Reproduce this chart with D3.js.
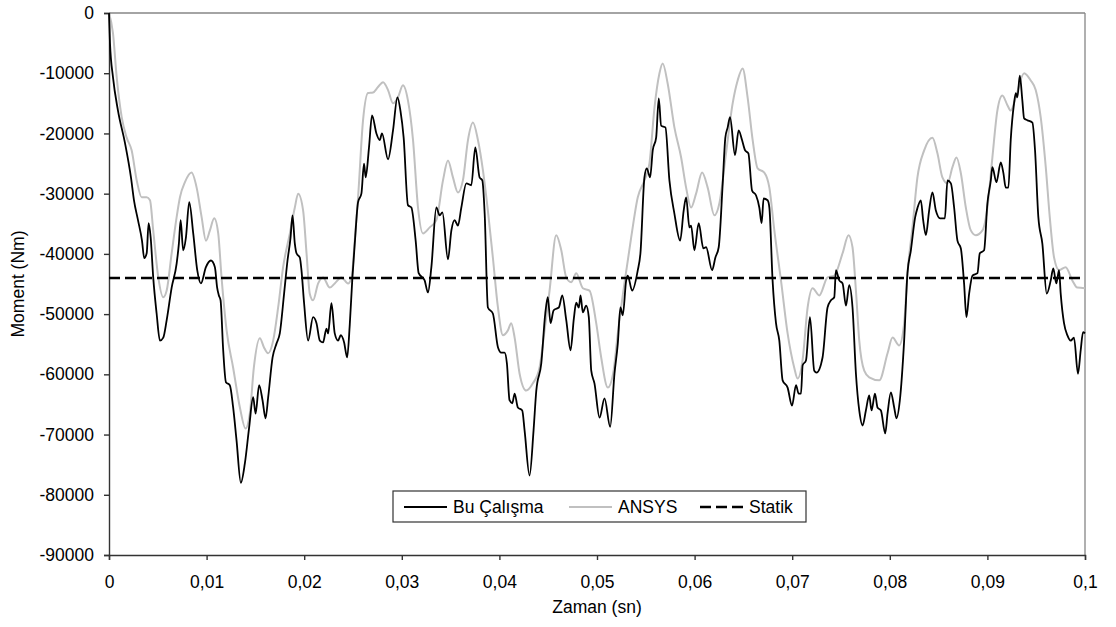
<!DOCTYPE html>
<html>
<head>
<meta charset="utf-8">
<script src="https://cdn.jsdelivr.net/npm/d3@7/dist/d3.min.js"></script>
<style>
  body { margin: 0; background: #fff; }
  svg { font-family: "Liberation Sans", Arial, sans-serif; }
</style>
</head>
<body>
<div id="chart"></div>
<script>
// time in ms, moment in Nm
const buCalisma = [
  [0,0],[0.10,-5000],[0.41,-10700],[0.92,-16200],[1.64,-21600],[2.25,-27300],[2.56,-31100],[2.97,-34400],[3.38,-37800],[3.61,-40700],
  [3.86,-39900],[4.06,-34900],[4.27,-37300],[4.53,-43900],[4.88,-49900],[5.22,-54400],[5.56,-53900],[5.91,-51000],[6.42,-45600],[6.93,-41600],
  [7.16,-38300],[7.34,-34400],[7.60,-39400],[7.88,-37300],[8.22,-31400],[8.63,-36600],[9.04,-42700],[9.42,-44900],[9.93,-42200],[10.44,-41100],
  [10.85,-42200],[11.08,-45600],[11.26,-46900],[11.43,-47700],[11.70,-56000],[11.98,-61300],[12.38,-61800],[12.72,-65500],[13.07,-71000],[13.51,-78000],
  [13.92,-74800],[14.36,-68800],[14.77,-63800],[15.02,-66500],[15.38,-61800],[15.73,-64300],[16.04,-67300],[16.31,-63800],[16.76,-57200],[17.16,-54900],
  [17.50,-53200],[17.94,-46600],[18.29,-41100],[18.60,-37300],[18.80,-33600],[19.04,-38300],[19.21,-39900],[19.55,-40600],[19.72,-42700],[19.99,-48200],
  [20.40,-54400],[20.91,-50500],[21.26,-51500],[21.60,-54400],[21.93,-54700],[22.28,-52400],[22.45,-53200],[22.79,-48200],[23.13,-53200],[23.47,-54400],
  [23.75,-53500],[24.09,-54700],[24.40,-57200],[24.67,-51700],[24.94,-43900],[25.18,-38300],[25.52,-31400],[25.86,-30000],[26.13,-25000],[26.30,-27300],
  [26.64,-22300],[26.95,-17000],[27.40,-20000],[27.74,-21100],[27.97,-20000],[28.59,-24300],[29.10,-19500],[29.55,-14000],[29.86,-16200],[30.19,-20700],
  [30.63,-31900],[30.98,-32300],[31.42,-37800],[31.73,-43200],[32.34,-44400],[32.68,-46400],[33.03,-42200],[33.54,-32300],[33.88,-33600],[34.16,-33100],
  [34.73,-40900],[35.08,-36100],[35.41,-34400],[35.75,-35300],[36.10,-32300],[36.61,-28300],[37.12,-28600],[37.53,-22300],[37.97,-27300],[38.25,-27800],
  [38.49,-33300],[38.82,-48900],[39.33,-49900],[39.85,-55500],[40.19,-56400],[40.53,-56400],[40.77,-58200],[41.04,-64300],[41.32,-64800],[41.56,-63200],
  [41.89,-65500],[42.34,-66000],[42.58,-69300],[43.09,-76800],[43.50,-69300],[43.78,-62700],[44.29,-58200],[44.70,-49900],[44.96,-47200],[45.24,-51500],
  [45.55,-49400],[45.82,-49100],[46.09,-48900],[46.44,-46900],[46.85,-51000],[47.29,-56000],[47.63,-50700],[47.87,-48100],[48.14,-48900],[48.31,-46900],
  [48.55,-49700],[48.89,-48600],[49.16,-50500],[49.41,-59400],[49.74,-61500],[50.26,-67200],[50.77,-64000],[51.35,-68700],[51.79,-59900],[52.13,-54900],
  [52.40,-48900],[52.64,-50200],[52.99,-44400],[53.15,-43600],[53.60,-46100],[54.18,-42700],[54.45,-39900],[54.86,-27300],[55.10,-25800],[55.44,-27300],
  [55.71,-22800],[56.06,-20700],[56.33,-14200],[56.57,-18700],[57.01,-19000],[57.42,-27800],[57.93,-33300],[58.52,-37800],[58.88,-32800],[59.13,-30600],
  [59.47,-35600],[59.64,-35300],[59.98,-39400],[60.42,-34900],[60.90,-39100],[61.18,-38900],[61.79,-42700],[62.13,-40600],[62.47,-38900],[62.88,-28300],
  [63.15,-20700],[63.39,-19000],[63.63,-17300],[64.14,-23600],[64.51,-19500],[64.86,-21100],[65.17,-22800],[65.51,-23300],[65.89,-29500],[66.30,-30300],
  [66.63,-32300],[66.87,-34900],[67.07,-30800],[67.48,-31100],[67.66,-32300],[67.99,-44400],[68.34,-51500],[68.68,-54400],[69.02,-61000],[69.53,-62200],
  [69.98,-65200],[70.39,-61800],[70.66,-63200],[70.90,-63200],[71.07,-58500],[71.41,-57700],[71.82,-50500],[72.26,-59400],[72.50,-59700],[73.11,-57200],
  [73.62,-48900],[73.97,-47700],[74.31,-47200],[74.48,-42700],[74.82,-44400],[75.16,-44900],[75.51,-48600],[75.84,-45200],[76.18,-48900],[76.53,-59900],
  [76.87,-66000],[77.21,-68500],[77.55,-66000],[77.89,-63500],[78.13,-66000],[78.48,-63200],[78.74,-65500],[79.09,-66000],[79.53,-69800],[79.77,-66500],
  [80.11,-63000],[80.45,-65500],[80.68,-67300],[81.03,-64300],[81.47,-54400],[81.81,-43200],[82.16,-39400],[82.60,-33900],[82.83,-32400],[83.18,-31100],
  [83.42,-34400],[83.70,-36900],[84.03,-32800],[84.37,-29800],[84.72,-32800],[85.16,-34100],[85.64,-34100],[85.91,-27800],[86.26,-28300],[86.59,-32300],
  [86.93,-37800],[87.28,-39100],[87.61,-44900],[87.85,-50500],[88.13,-46600],[88.47,-43600],[88.98,-43200],[89.22,-39900],[89.66,-39400],[90.00,-31600],
  [90.35,-27800],[90.51,-25600],[90.92,-28100],[91.37,-24800],[91.64,-26600],[91.88,-29000],[92.15,-29000],[92.39,-21100],[92.73,-15000],[92.91,-13300],
  [93.07,-14000],[93.32,-10400],[93.58,-14500],[93.76,-17500],[94.09,-17800],[94.61,-18200],[94.88,-22800],[95.22,-33900],[95.63,-38300],[96.08,-46600],
  [96.49,-44400],[96.75,-42400],[97.06,-44900],[97.34,-42700],[97.51,-46600],[97.85,-51500],[98.19,-53500],[98.54,-54400],[98.87,-53900],[99.28,-59900],
  [99.56,-56000],[99.80,-53000],[100,-53200]
];

const ansys = [
  [0,0],[0.41,-3400],[0.79,-10700],[1.30,-17300],[1.81,-20700],[2.32,-22800],[2.84,-27800],[3.35,-30600],[3.86,-30600],[4.20,-31100],
  [4.53,-36100],[5.05,-43900],[5.56,-47200],[5.91,-46100],[6.42,-39900],[6.93,-33900],[7.27,-30600],[7.78,-28100],[8.46,-26500],[8.98,-29000],
  [9.49,-33900],[9.93,-37800],[10.34,-36100],[10.78,-34100],[11.19,-36600],[11.53,-43900],[12.05,-52700],[12.72,-58900],[13.41,-65500],[13.99,-69000],
  [14.43,-66500],[14.84,-58900],[15.46,-54000],[15.87,-55500],[16.30,-56500],[16.82,-54400],[17.33,-48900],[17.84,-42200],[18.53,-36600],[19.04,-32300],
  [19.38,-30000],[19.89,-32800],[20.24,-39900],[20.57,-46600],[20.91,-47700],[21.43,-44900],[21.93,-43900],[22.62,-45600],[23.13,-44900],[23.82,-43900],
  [24.49,-44900],[24.84,-44100],[25.18,-37800],[25.52,-30600],[26.03,-17800],[26.54,-13300],[27.05,-13200],[27.56,-12300],[28.08,-11500],[28.59,-12800],
  [29.10,-15000],[29.61,-14000],[30.12,-12000],[30.63,-14500],[31.15,-21100],[31.66,-32300],[32.17,-36600],[32.86,-35600],[33.54,-34400],[34.22,-27800],
  [34.73,-24500],[35.24,-27300],[35.75,-29800],[36.26,-27800],[36.78,-21100],[37.29,-18200],[37.80,-21100],[38.31,-26100],[38.82,-32800],[39.33,-40600],
  [39.85,-48900],[40.36,-53500],[40.87,-52700],[41.21,-51500],[41.56,-53900],[42.07,-59900],[42.75,-62700],[43.43,-61500],[44.11,-58900],[44.63,-52700],
  [45.14,-46100],[45.82,-36900],[46.34,-39400],[46.85,-43900],[47.36,-44700],[47.87,-43200],[48.55,-45700],[49.23,-46100],[49.92,-51500],[50.43,-57200],
  [51.11,-62200],[51.65,-59900],[52.13,-53200],[52.81,-44900],[53.50,-37300],[54.18,-30600],[54.86,-27800],[55.37,-25000],[55.89,-15700],[56.40,-10000],
  [56.73,-8400],[57.24,-11700],[57.93,-19000],[58.62,-24000],[59.13,-29000],[59.64,-32300],[60.15,-30000],[60.77,-26500],[61.34,-29000],[62.03,-33600],
  [62.54,-31600],[63.22,-23300],[63.90,-15000],[64.41,-11200],[64.92,-9200],[65.43,-14000],[65.95,-21100],[66.46,-25800],[67.14,-26500],[67.66,-29000],
  [68.17,-36100],[68.85,-44400],[69.53,-53200],[70.21,-58900],[70.55,-60700],[71.06,-57700],[71.58,-48900],[72.09,-45700],[72.77,-46900],[73.62,-43900],
  [74.31,-43600],[75.16,-39900],[75.77,-36900],[76.18,-38900],[76.53,-46100],[76.87,-54400],[77.38,-59400],[77.89,-60500],[78.92,-61000],[79.77,-56500],
  [80.28,-53900],[80.96,-55200],[81.47,-51500],[81.81,-43200],[82.32,-35600],[82.83,-27300],[83.52,-22800],[84.37,-20700],[84.88,-23300],[85.39,-27300],
  [85.91,-28300],[86.42,-25600],[86.83,-24000],[87.28,-26600],[87.79,-32300],[88.30,-36100],[88.81,-36900],[89.49,-36100],[90.00,-32300],[90.51,-24000],
  [91.02,-16200],[91.53,-13700],[92.05,-15300],[92.39,-16200],[92.91,-14000],[93.76,-10000],[94.44,-11200],[94.95,-12800],[95.46,-17300],[95.98,-25600],
  [96.39,-33900],[96.83,-40600],[97.34,-42700],[98.02,-42200],[98.70,-44400],[99.21,-45600],[100,-45700]
];

const statik = -44000;

const xTickValues = [0, 10, 20, 30, 40, 50, 60, 70, 80, 90, 100];
const xTickLabels = ['0', '0,01', '0,02', '0,03', '0,04', '0,05', '0,06', '0,07', '0,08', '0,09', '0,1'];
const yTickValues = [0, -10000, -20000, -30000, -40000, -50000, -60000, -70000, -80000, -90000];

const seriesNames = ['Bu Çalışma', 'ANSYS', 'Statik'];

const W = 1116, H = 627;
const margin = { top: 13, right: 31, bottom: 72, left: 109 };
const width = W - margin.left - margin.right;
const height = H - margin.top - margin.bottom;
const fontSize = '17.5px';

const svg = d3.select('#chart')
              .append('svg')
              .attr('width', W)
              .attr('height', H);

const g = svg.append('g')
             .attr('transform', `translate(${margin.left}, ${margin.top})`);

const xScale = d3.scaleLinear().domain([0, 100]).range([0, width]);
const yScale = d3.scaleLinear().domain([-90000, 0]).range([height, 0]);

// plot frame (top/right are light grey like the original)
g.append('line').attr('x1', 0).attr('x2', width).attr('y1', 0).attr('y2', 0)
 .attr('stroke', '#868686').attr('stroke-width', 1.3);
g.append('line').attr('x1', width).attr('x2', width).attr('y1', 0).attr('y2', height)
 .attr('stroke', '#868686').attr('stroke-width', 1.3);

const xAxis = d3.axisBottom(xScale)
                .tickValues(xTickValues)
                .tickFormat((d, i) => xTickLabels[i])
                .tickSize(5)
                .tickPadding(16);
const yAxis = d3.axisLeft(yScale)
                .tickValues(yTickValues)
                .tickFormat(d => String(d))
                .tickSize(5)
                .tickPadding(10);

const gx = g.append('g')
            .attr('transform', `translate(0, ${height})`)
            .call(xAxis);
const gy = g.append('g').call(yAxis);

[gx, gy].forEach(ax => {
  ax.selectAll('path, line').attr('stroke', '#333').attr('stroke-width', 1.4);
  ax.selectAll('text').attr('fill', '#000')
    .style('font-size', fontSize)
    .style('font-family', '"Liberation Sans", Arial, sans-serif');
});

const line = d3.line()
               .x(d => xScale(d[0]))
               .y(d => yScale(d[1]))
               .curve(d3.curveMonotoneX);

g.append('path')
 .datum(ansys)
 .attr('fill', 'none')
 .attr('stroke', '#c0c0c0')
 .attr('stroke-width', 2)
 .attr('d', line);

g.append('path')
 .datum(buCalisma)
 .attr('fill', 'none')
 .attr('stroke', '#000')
 .attr('stroke-width', 1.8)
 .attr('stroke-linejoin', 'round')
 .attr('d', line);

g.append('line')
 .attr('x1', xScale(0)).attr('x2', xScale(100))
 .attr('y1', yScale(statik)).attr('y2', yScale(statik))
 .attr('stroke', '#000')
 .attr('stroke-width', 2.4)
 .attr('stroke-dasharray', '11,5');

// axis titles
svg.append('text')
   .attr('x', margin.left + width / 2)
   .attr('y', 613)
   .attr('text-anchor', 'middle')
   .style('font-size', fontSize)
   .text('Zaman (sn)');

svg.append('text')
   .attr('transform', `translate(24, ${margin.top + height / 2}) rotate(-90)`)
   .attr('text-anchor', 'middle')
   .style('font-size', fontSize)
   .text('Moment (Nm)');

// legend
const legend = svg.append('g').attr('transform', 'translate(393, 491)');
legend.append('rect')
      .attr('width', 413).attr('height', 31)
      .attr('fill', '#fff')
      .attr('stroke', '#333').attr('stroke-width', 1.2);

const legendItems = [
  { name: seriesNames[0], x0: 11, color: '#000', w: 1.8, dash: null },
  { name: seriesNames[1], x0: 176, color: '#c0c0c0', w: 2, dash: null },
  { name: seriesNames[2], x0: 307, color: '#000', w: 2.4, dash: '11,5' }
];
legendItems.forEach(it => {
  legend.append('line')
        .attr('x1', it.x0).attr('x2', it.x0 + 43)
        .attr('y1', 16).attr('y2', 16)
        .attr('stroke', it.color)
        .attr('stroke-width', it.w)
        .attr('stroke-dasharray', it.dash);
  legend.append('text')
        .attr('x', it.x0 + 49)
        .attr('y', 22)
        .style('font-size', fontSize)
        .text(it.name);
});
</script>
</body>
</html>
